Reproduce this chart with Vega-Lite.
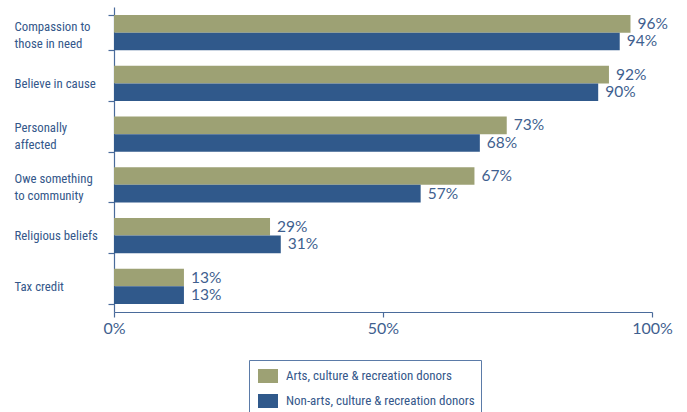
{
  "$schema": "https://vega.github.io/schema/vega-lite/v6.json",
  "width": 538,
  "height": 305,
  "autosize": {"type": "none"},
  "padding": {"left": 114, "top": 7, "right": 35, "bottom": 100},
  "background": "white",
  "config": {"view": {"stroke": null}},
  "data": {
    "values": [
      {"reason": "Compassion to|those in need", "group": "Arts, culture & recreation donors", "pct": 0.96},
      {"reason": "Compassion to|those in need", "group": "Non-arts, culture & recreation donors", "pct": 0.94},
      {"reason": "Believe in cause", "group": "Arts, culture & recreation donors", "pct": 0.92},
      {"reason": "Believe in cause", "group": "Non-arts, culture & recreation donors", "pct": 0.90},
      {"reason": "Personally|affected", "group": "Arts, culture & recreation donors", "pct": 0.73},
      {"reason": "Personally|affected", "group": "Non-arts, culture & recreation donors", "pct": 0.68},
      {"reason": "Owe something|to community", "group": "Arts, culture & recreation donors", "pct": 0.67},
      {"reason": "Owe something|to community", "group": "Non-arts, culture & recreation donors", "pct": 0.57},
      {"reason": "Religious beliefs", "group": "Arts, culture & recreation donors", "pct": 0.29},
      {"reason": "Religious beliefs", "group": "Non-arts, culture & recreation donors", "pct": 0.31},
      {"reason": "Tax credit", "group": "Arts, culture & recreation donors", "pct": 0.13},
      {"reason": "Tax credit", "group": "Non-arts, culture & recreation donors", "pct": 0.13}
    ]
  },
  "encoding": {
    "y": {
      "field": "reason",
      "type": "nominal",
      "sort": ["Compassion to|those in need", "Believe in cause", "Personally|affected", "Owe something|to community", "Religious beliefs", "Tax credit"],
      "scale": {"paddingInner": 0.31, "paddingOuter": 0.16},
      "axis": {
        "title": null,
        "labelExpr": "split(datum.label, '|')",
        "labelAlign": "left",
        "labelBaseline": "middle",
        "labelPadding": 94,
        "labelOffset": {"condition": {"test": "indexof(datum.label, '|') >= 0", "value": -6.5}, "value": 0},
        "labelLimit": 0,
        "labelFont": "Roboto Condensed, DejaVu Sans Condensed, sans-serif",
        "labelFontSize": 12.8,
        "labelLineHeight": 17,
        "labelColor": "#34578a",
        "tickBand": "extent",
        "tickSize": 6,
        "tickColor": "#4a6b9b",
        "domainColor": "#4a6b9b",
        "tickWidth": 1.2,
        "domainWidth": 1.2
      }
    },
    "yOffset": {
      "field": "group",
      "sort": ["Arts, culture & recreation donors", "Non-arts, culture & recreation donors"]
    },
    "x": {
      "field": "pct",
      "type": "quantitative",
      "scale": {"domain": [0, 1]},
      "axis": {
        "title": null,
        "values": [0, 0.5, 1],
        "format": ".0%",
        "grid": false,
        "labelFlush": false,
        "tickSize": 5,
        "labelPadding": 3,
        "labelFont": "Lato, Open Sans, sans-serif",
        "labelFontSize": 16,
        "labelColor": "#3f5f8f",
        "tickColor": "#4a6b9b",
        "domainColor": "#4a6b9b",
        "tickWidth": 1.2,
        "domainWidth": 1.2
      }
    }
  },
  "layer": [
    {
      "mark": {"type": "bar"},
      "encoding": {
        "color": {
          "field": "group",
          "type": "nominal",
          "scale": {
            "domain": ["Arts, culture & recreation donors", "Non-arts, culture & recreation donors"],
            "range": ["#9da174", "#30598b"]
          },
          "legend": {
            "orient": "none",
            "legendX": 135,
            "legendY": 353,
            "title": null,
            "direction": "vertical",
            "symbolType": "M-0.7,-0.7H1.3V0.7H-0.7Z",
            "symbolSize": 400,
            "symbolStrokeWidth": 0,
            "labelFont": "Roboto Condensed, DejaVu Sans Condensed, sans-serif",
            "labelFontSize": 13,
            "labelColor": "#34578a",
            "labelOffset": 11,
            "labelLimit": 0,
            "rowPadding": 8,
            "padding": 6,
            "strokeColor": "#5b7ba8",
            "fillColor": "white",
            "cornerRadius": 0
          }
        }
      }
    },
    {
      "mark": {
        "type": "text",
        "align": "left",
        "baseline": "middle",
        "dx": 7,
        "font": "Lato, Open Sans, sans-serif",
        "fontSize": 15.5,
        "color": "#3f5f8f"
      },
      "encoding": {
        "text": {"field": "pct", "type": "quantitative", "format": ".0%"}
      }
    }
  ]
}
